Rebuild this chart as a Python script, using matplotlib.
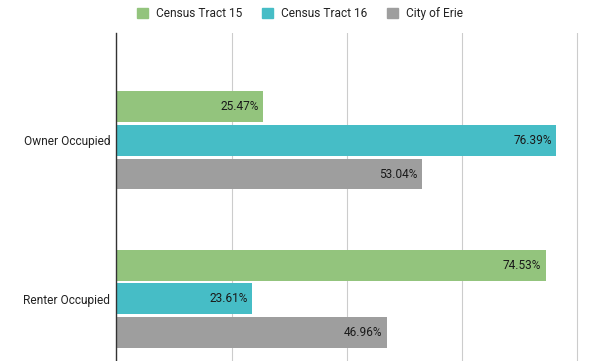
import numpy as np
import matplotlib.pyplot as plt
from matplotlib.patches import Patch

plt.rcParams['font.family'] = ['Roboto', 'DejaVu Sans']

categories = ["Owner Occupied", "Renter Occupied"]
series_names = ["Census Tract 15", "Census Tract 16", "City of Erie"]
tract15 = [25.47, 74.53]
tract16 = [76.39, 23.61]
erie = [53.04, 46.96]
colors = ["#93c47d", "#46bdc6", "#9e9e9e"]

fig = plt.figure(figsize=(6, 3.61), dpi=100)
# axes spans a bit past the last gridline so it stays visible
ax = fig.add_axes([116.5 / 600, 0, (585 - 116.5) / 600, (361 - 33) / 361])

ypos = np.arange(len(categories))
offsets = [-0.212, 0, 0.212]
bar_h = 0.196

for vals, off, col in zip([tract15, tract16, erie], offsets, colors):
    bars = ax.barh(ypos + off, vals, height=bar_h, color=col, zorder=3)
    for bar, v in zip(bars, vals):
        ax.annotate(f"{v:.2f}%",
                    xy=(bar.get_width(), bar.get_y() + bar.get_height() / 2),
                    xytext=(-3, 0), textcoords="offset points",
                    ha="right", va="center", fontsize=8.6, color="#1a1a1a",
                    zorder=4)

ax.set_xlim(0, 80 * (585 - 116.5) / (577 - 116.5))
ax.set_ylim(1.395, -0.68)
ax.set_xticks([0, 20, 40, 60, 80])
ax.set_xticklabels([])
ax.tick_params(axis="x", length=0)
ax.grid(axis="x", color="#cccccc", linewidth=0.8, zorder=0)
ax.set_yticks(ypos)
ax.set_yticklabels(categories, fontsize=8.6, color="#222222")
ax.tick_params(axis="y", length=0, pad=4.5)
for s in ["top", "right", "bottom"]:
    ax.spines[s].set_visible(False)
ax.spines["left"].set_color("#333333")
ax.spines["left"].set_linewidth(1)
ax.spines["left"].set_zorder(5)

handles = [Patch(color=c) for c in colors]
fig.legend(handles, series_names, loc="upper center", bbox_to_anchor=(0.5, 1.01),
           ncol=3, frameon=False, fontsize=8.6, handlelength=0.95, handleheight=0.95,
           handletextpad=0.7, columnspacing=1.6, labelcolor="#222222")

fig.savefig("out.png", dpi=100)
